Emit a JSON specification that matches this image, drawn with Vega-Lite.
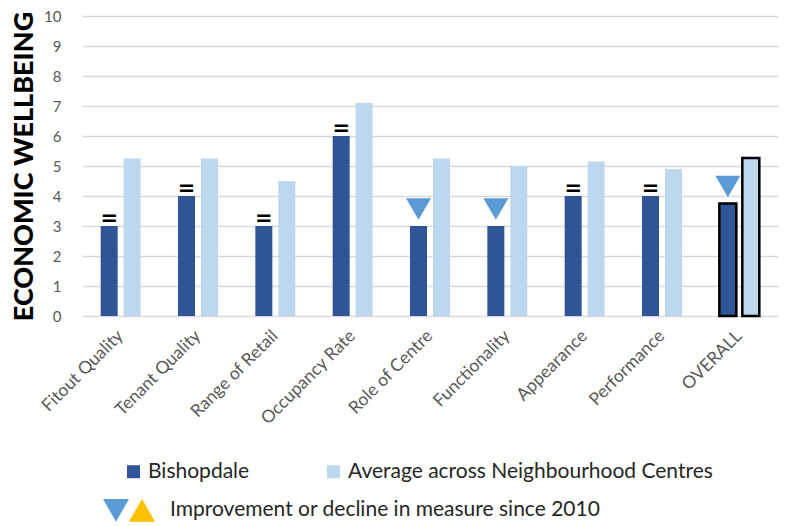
{
  "$schema": "https://vega.github.io/schema/vega-lite/v6.json",
  "autosize": {"type": "none"},
  "padding": {"left": 82, "top": 16, "right": 17, "bottom": 210},
  "width": 696,
  "height": 300,
  "background": "white",
  "config": {
    "view": {"stroke": null},
    "font": "Lato",
    "axis": {"labelFont": "Lato", "titleFont": "Lato"},
    "legend": {"labelFont": "Lato"}
  },
  "data": {
    "values": [
      {"measure": "Fitout Quality", "series": "Bishopdale", "score": 3, "change": "Same"},
      {"measure": "Fitout Quality", "series": "Average across Neighbourhood Centres", "score": 5.25, "change": null},
      {"measure": "Tenant Quality", "series": "Bishopdale", "score": 4, "change": "Same"},
      {"measure": "Tenant Quality", "series": "Average across Neighbourhood Centres", "score": 5.25, "change": null},
      {"measure": "Range of Retail", "series": "Bishopdale", "score": 3, "change": "Same"},
      {"measure": "Range of Retail", "series": "Average across Neighbourhood Centres", "score": 4.5, "change": null},
      {"measure": "Occupancy Rate", "series": "Bishopdale", "score": 6, "change": "Same"},
      {"measure": "Occupancy Rate", "series": "Average across Neighbourhood Centres", "score": 7.1, "change": null},
      {"measure": "Role of Centre", "series": "Bishopdale", "score": 3, "change": "Decline"},
      {"measure": "Role of Centre", "series": "Average across Neighbourhood Centres", "score": 5.25, "change": null},
      {"measure": "Functionality", "series": "Bishopdale", "score": 3, "change": "Decline"},
      {"measure": "Functionality", "series": "Average across Neighbourhood Centres", "score": 5.0, "change": null},
      {"measure": "Appearance", "series": "Bishopdale", "score": 4, "change": "Same"},
      {"measure": "Appearance", "series": "Average across Neighbourhood Centres", "score": 5.15, "change": null},
      {"measure": "Performance", "series": "Bishopdale", "score": 4, "change": "Same"},
      {"measure": "Performance", "series": "Average across Neighbourhood Centres", "score": 4.9, "change": null},
      {"measure": "OVERALL", "series": "Bishopdale", "score": 3.75, "change": "Decline"},
      {"measure": "OVERALL", "series": "Average across Neighbourhood Centres", "score": 5.27, "change": null}
    ]
  },
  "encoding": {
    "x": {
      "field": "measure",
      "type": "nominal",
      "sort": null,
      "scale": {"paddingInner": 0.483, "paddingOuter": 0.2415},
      "axis": {
        "title": null,
        "domain": false,
        "ticks": false,
        "labelAngle": -45,
        "labelAlign": "right",
        "labelBaseline": "middle",
        "labelPadding": 17,
        "labelFontSize": 17.5,
        "labelColor": "#595959"
      }
    },
    "xOffset": {
      "field": "series",
      "type": "nominal",
      "sort": ["Bishopdale", "Average across Neighbourhood Centres"],
      "scale": {"paddingInner": 0.26, "paddingOuter": 0}
    },
    "y": {
      "field": "score",
      "type": "quantitative",
      "scale": {"domain": [0, 10], "nice": false},
      "axis": {
        "title": "ECONOMIC WELLBEING",
        "titleFontSize": 27,
        "titleFontWeight": 900,
        "titleColor": "#000000",
        "titlePadding": 5,
        "values": [0, 1, 2, 3, 4, 5, 6, 7, 8, 9, 10],
        "domain": false,
        "ticks": false,
        "labelPadding": 21,
        "labelFontSize": 15,
        "labelColor": "#595959",
        "gridColor": "#D9D9D9",
        "gridWidth": 1.5
      }
    }
  },
  "layer": [
    {
      "mark": {"type": "bar", "strokeWidth": 2.5},
      "encoding": {
        "color": {
          "field": "series",
          "type": "nominal",
          "scale": {
            "domain": ["Bishopdale", "Average across Neighbourhood Centres"],
            "range": ["#2F5597", "#BDD7EE"]
          },
          "legend": {
            "title": null,
            "orient": "none",
            "direction": "horizontal",
            "legendX": 41,
            "legendY": 445,
            "padding": 0,
            "symbolType": "square",
            "symbolSize": 169,
            "symbolStrokeWidth": 0,
            "symbolOpacity": 1,
            "labelFontSize": 21,
            "labelColor": "#262626",
            "labelOffset": 4,
            "columnPadding": 73,
            "labelLimit": 500
          }
        },
        "stroke": {
          "condition": {"test": "datum.measure === 'OVERALL'", "value": "#000000"},
          "value": null
        }
      }
    },
    {
      "transform": [{"filter": "datum.change === 'Same'"}],
      "mark": {
        "type": "text",
        "text": "=",
        "font": "DejaVu Sans",
        "fontSize": 21,
        "fontWeight": "bold",
        "color": "#000000",
        "baseline": "middle",
        "dy": -7
      }
    },
    {
      "transform": [{"filter": "datum.change === 'Decline'"}],
      "mark": {"type": "point", "filled": true, "opacity": 1, "size": 625, "yOffset": -17},
      "encoding": {
        "shape": {
          "field": "change",
          "type": "nominal",
          "scale": {
            "domain": ["Decline", "Improvement"],
            "range": ["triangle-down", "M-1.305,-0.866L-0.305,0.866L-2.305,0.866Z"]
          },
          "legend": {
            "title": null,
            "orient": "none",
            "direction": "horizontal",
            "legendX": 21,
            "legendY": 481,
            "padding": 0,
            "symbolSize": 676,
            "symbolStrokeWidth": 0,
            "symbolOpacity": 1,
            "labelFontSize": 21,
            "labelColor": "#262626",
            "labelOffset": -2,
            "columnPadding": 0,
            "labelLimit": 600,
            "labelExpr": "datum.label === 'Improvement' ? 'Improvement or decline in measure since 2010' : ''"
          }
        },
        "color": {
          "field": "change",
          "type": "nominal",
          "scale": {"domain": ["Decline", "Improvement"], "range": ["#5B9BD5", "#FFC000"]},
          "legend": {
            "title": null,
            "orient": "none",
            "direction": "horizontal",
            "legendX": 21,
            "legendY": 481,
            "padding": 0,
            "symbolSize": 676,
            "symbolStrokeWidth": 0,
            "symbolOpacity": 1,
            "labelFontSize": 21,
            "labelColor": "#262626",
            "labelOffset": -2,
            "columnPadding": 0,
            "labelLimit": 600,
            "labelExpr": "datum.label === 'Improvement' ? 'Improvement or decline in measure since 2010' : ''"
          }
        }
      }
    }
  ],
  "resolve": {"scale": {"color": "independent", "shape": "independent", "xOffset": "shared"}}
}
